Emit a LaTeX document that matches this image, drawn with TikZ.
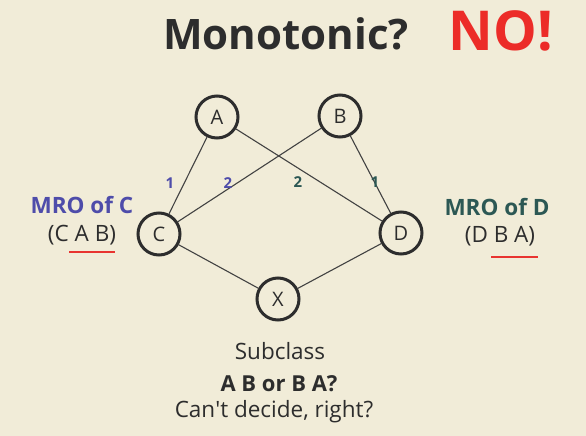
\documentclass[tikz,border=0pt]{standalone}
\usepackage{fontspec}
\setmainfont{Open Sans}
\definecolor{bg}{RGB}{241,236,216}
\definecolor{ink}{RGB}{45,45,45}
\definecolor{mroC}{RGB}{78,76,170}
\definecolor{mroD}{RGB}{44,88,84}
\definecolor{redline}{RGB}{232,52,48}
\definecolor{nored}{RGB}{236,44,40}
\tikzset{
  cls/.style={circle, draw=ink, line width=3pt, minimum size=42pt, inner sep=0pt, text=ink, font=\fontsize{20}{24}\selectfont},
  link/.style={draw=ink!90, line width=1.1pt},
  ordlblC/.style={text=mroC, font=\bfseries\fontsize{15}{18}\selectfont},
  ordlblD/.style={text=mroD, font=\bfseries\fontsize{15}{18}\selectfont},
  uline/.style={draw=redline, line width=2.2pt},
  txt/.style={text=ink, font=\fontsize{22.5}{26}\selectfont},
}
\begin{document}
\begin{tikzpicture}[x=1pt,y=-1pt]
\fill[bg] (0,0) rectangle (586,436);
\useasboundingbox (0,0) rectangle (586,436);
\node[text=ink, font=\bfseries\fontsize{42}{48}\selectfont, anchor=base] (title) at (286,50) {Monotonic?};
\node[text=nored, font=\bfseries\fontsize{55}{60}\selectfont, anchor=base] (no) at (501,51) {NO!};
\node[cls] (A) at (217,117) {A};
\node[cls] (B) at (340,116) {B};
\node[cls] (C) at (159,234) {C};
\node[cls] (D) at (401,233) {D};
\node[cls] (X) at (278,299) {X};
\draw[link] (A) -- (C);
\draw[link] (B) -- (C);
\draw[link] (A) -- (D);
\draw[link] (B) -- (D);
\draw[link] (C) -- (X);
\draw[link] (D) -- (X);
\node[ordlblC] (l1) at (170,183) {1};
\node[ordlblC] (l2) at (228,183) {2};
\node[ordlblD] (r2) at (298,182) {2};
\node[ordlblD] (r1) at (375,182) {1};
\node[text=mroC, font=\bfseries\fontsize{22.5}{26}\selectfont] (mroc) at (82,205) {MRO of C};
\node[txt] (mrocl) at (82,235) {(C A B)};
\node[text=mroD, font=\bfseries\fontsize{22.5}{26}\selectfont] (mrod) at (497,207) {MRO of D};
\node[txt] (mrodl) at (500,236) {(D B A)};
\coordinate (uc1) at (69,252); \coordinate (uc2) at (115,252);
\coordinate (ud1) at (491,257); \coordinate (ud2) at (538,257);
\draw[uline] (uc1) -- (uc2);
\draw[uline] (ud1) -- (ud2);
\node[txt] (sub) at (280,351) {Subclass};
\node[txt, font=\bfseries\fontsize{22}{26}\selectfont] (ab) at (279,384) {A B or B A?};
\node[txt] (cant) at (274,412) {Can\textquotesingle t decide, right?};
\end{tikzpicture}
\end{document}
